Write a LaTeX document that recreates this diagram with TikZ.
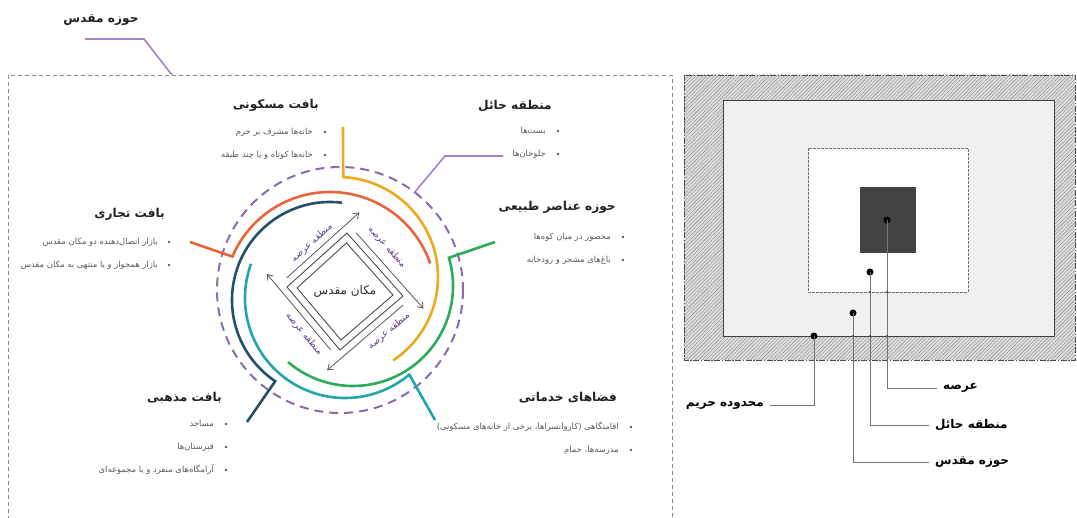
\documentclass[tikz,border=0pt]{standalone}
\usepackage{fontspec}
\usetikzlibrary{arrows.meta,patterns.meta}
\newfontfamily\fa[Script=Arabic]{DejaVu Sans}
\TeXXeTstate=1
\definecolor{cOrange}{HTML}{E9643A}
\definecolor{cNavy}{HTML}{24506B}
\definecolor{cYellow}{HTML}{F0A91E}
\definecolor{cGreen}{HTML}{2EAA5C}
\definecolor{cTeal}{HTML}{1FA7AC}
\definecolor{cPurple}{HTML}{8B6AAE}
\definecolor{cLilac}{HTML}{A582C6}
\definecolor{cLabel}{HTML}{5E3D8A}
\definecolor{cText}{HTML}{5A5A5A}
\definecolor{cHead}{HTML}{222222}
\definecolor{cFrame}{HTML}{8A8A8A}
\definecolor{cHatch}{HTML}{DDDDDD}
\definecolor{cMid}{HTML}{F0F0F0}
\definecolor{cCore}{HTML}{434343}
\tikzset{
  arcline/.style={line width=2.6pt},
  ring/.style={cPurple, line width=2pt, dash pattern=on 9pt off 6pt},
  leader/.style={cLilac, line width=1.6pt},
  blt/.style={circle, fill=cText, inner sep=0pt, minimum size=2.8pt},
  item/.style={anchor=east, inner sep=0pt, text=cText, font=\fa\fontsize{8.4}{10}\selectfont},
  heading/.style={anchor=east, inner sep=0pt, text=cHead, font=\fa\bfseries\fontsize{12.2}{14}\selectfont},
  zlabel/.style={inner sep=0pt, text=cLabel, font=\fa\fontsize{9.3}{11}\selectfont},
  garrow/.style={draw=black!65, line width=0.8pt, -{Straight Barb[length=5pt,width=7pt]}},
  frame/.style={draw=black!75, line width=0.9pt},
  pin/.style={circle, fill=black, inner sep=0pt, minimum size=7pt},
  pline/.style={black!55, line width=0.6pt},
  plabel/.style={inner sep=0pt, text=black, font=\fa\bfseries\fontsize{12}{14}\selectfont},
}
\begin{document}
\begin{tikzpicture}[x=1pt,y=-1pt]
\useasboundingbox (0,0) rectangle (1077,518);
\fill[white] (0,0) rectangle (1077,518);

% ---------- left panel: dashed frame and its title ----------
\draw[cFrame, line width=0.8pt, dash pattern=on 4pt off 3pt]
  (8,520) -- (8,75) -- (672,75) -- (672,520);
\node[heading, anchor=center] (title) at (101,20) {\beginR حوزه مقدس\endR};
\coordinate (t1) at (85,39);
\coordinate (t2) at (144,39);
\coordinate (t3) at (172,75);
\draw[leader] (t1) -- (t2) -- (t3);

% ---------- rings around the sanctuary ----------
\coordinate (ringC) at (340,290);
\draw[ring] (ringC) circle[radius=123];

\coordinate (oC) at (330,298);
\coordinate (oTick) at (190,242);
\draw[arcline, cOrange] (oTick) -- ([shift={(-157:106)}]oC) arc[start angle=-157, end angle=-19, radius=106];

\coordinate (nC) at (330,300);
\coordinate (nTick) at (247,422);
\draw[arcline, cNavy] ([shift={(-83:98)}]nC) arc[start angle=-83, end angle=-236, radius=98] -- (nTick);

\coordinate (yC) at (338,277);
\coordinate (yTick) at (343,127);
\draw[arcline, cYellow] (yTick) -- ([shift={(-87:100)}]yC) arc[start angle=-87, end angle=56.5, radius=100];

\coordinate (gC) at (353,286);
\coordinate (gTick) at (495,242);
\draw[arcline, cGreen] (gTick) -- ([shift={(-16.4:100)}]gC) arc[start angle=-16.4, end angle=130.5, radius=100];

\coordinate (tC) at (345,298);
\coordinate (tTick) at (435,420);
\draw[arcline, cTeal] ([shift={(-160:100)}]tC) arc[start angle=-160, end angle=-310, radius=100] -- (tTick);

% leader from the buffer zone text to the ring
\coordinate (b1) at (503,156);
\coordinate (b2) at (445,156);
\coordinate (b3) at (414,193);
\draw[leader] (b1) -- (b2) -- (b3);

% ---------- the sanctuary diamond ----------
\coordinate (dT) at (347,233); \coordinate (dR) at (403,296);
\coordinate (dB) at (340,350); \coordinate (dL) at (287,287);
\coordinate (iT) at (346.5,243); \coordinate (iR) at (393,295);
\coordinate (iB) at (341,340); \coordinate (iL) at (297,288);
\draw[black!70, line width=0.9pt] (dT) -- (dR) -- (dB) -- (dL) -- cycle;
\draw[black!70, line width=0.9pt] (iT) -- (iR) -- (iB) -- (iL) -- cycle;
\node[inner sep=0pt, text=black!80, font=\fa\fontsize{12}{14}\selectfont] (core) at (345,291) {\beginR مکان مقدس\endR};

% circulation arrows, one along each side
\coordinate (s1) at (286.8,277.8); \coordinate (h1) at (359.4,212.4);
\coordinate (s2) at (356.2,232.9); \coordinate (h2) at (423.5,308.6);
\coordinate (s3) at (403,305.2);   \coordinate (h3) at (327.1,370.3);
\coordinate (s4) at (330.7,349.9); \coordinate (h4) at (266.8,273.9);
\draw[garrow] (s1) -- (h1);
\draw[garrow] (s2) -- (h2);
\draw[garrow] (s3) -- (h3);
\draw[garrow] (s4) -- (h4);

\node[zlabel, rotate=42]   (zTL) at (312,243) {\beginR منطقه عرصه\endR};
\node[zlabel, rotate=-48]  (zTR) at (387,247) {\beginR منطقه عرصه\endR};
\node[zlabel, rotate=40.6] (zBR) at (389,331) {\beginR منطقه عرصه\endR};
\node[zlabel, rotate=-50]  (zBL) at (304,334) {\beginR منطقه عرصه\endR};

% ---------- text blocks ----------
% residential fabric
\node[heading] (hRes) at (319,105) {\beginR بافت مسکونی\endR};
\node[blt] (r1b) at (325,132) {};
\node[item] (r1) at (313,132) {\beginR خانه^^^^200cها مشرف بر حرم\endR};
\node[blt] (r2b) at (325,155) {};
\node[item] (r2) at (313,155) {\beginR خانه^^^^200cها کوتاه و یا چند طبقه\endR};

% buffer zone
\node[heading] (hBuf) at (552,106) {\beginR منطقه حائل\endR};
\node[blt] (f1b) at (558,131) {};
\node[item] (f1) at (546,131) {\beginR بست^^^^200cها\endR};
\node[blt] (f2b) at (558,154) {};
\node[item] (f2) at (546,154) {\beginR جلوخان^^^^200cها\endR};

% natural elements
\node[heading] (hNat) at (616,207) {\beginR حوزه عناصر طبیعی\endR};
\node[blt] (n1b) at (623,237) {};
\node[item] (n1) at (611,237) {\beginR محصور در میان کوه^^^^200cها\endR};
\node[blt] (n2b) at (623,260) {};
\node[item] (n2) at (611,260) {\beginR باغ^^^^200cهای مشجر و رودخانه\endR};

% commercial fabric
\node[heading] (hCom) at (165,214) {\beginR بافت تجاری\endR};
\node[blt] (c1b) at (169,242) {};
\node[item] (c1) at (158,242) {\beginR بازار اتصال^^^^200cدهنده دو مکان مقدس\endR};
\node[blt] (c2b) at (169,265) {};
\node[item] (c2) at (158,265) {\beginR بازار همجوار و یا منتهی به مکان مقدس\endR};

% religious fabric
\node[heading] (hRel) at (222,398) {\beginR بافت مذهبی\endR};
\node[blt] (g1b) at (226,424) {};
\node[item] (g1) at (214,424) {\beginR مساجد\endR};
\node[blt] (g2b) at (226,447) {};
\node[item] (g2) at (214,447) {\beginR قبرستان^^^^200cها\endR};
\node[blt] (g3b) at (226,470) {};
\node[item] (g3) at (214,470) {\beginR آرامگاه^^^^200cهای منفرد و یا مجموعه^^^^200cای\endR};

% service spaces
\node[heading] (hSrv) at (617,398) {\beginR فضاهای خدماتی\endR};
\node[blt] (v1b) at (631,427) {};
\node[item] (v1) at (619,427) {\beginR اقامتگاهی (کاروانسراها، برخی از خانه^^^^200cهای مسکونی)\endR};
\node[blt] (v2b) at (631,450) {};
\node[item] (v2) at (619,450) {\beginR مدرسه^^^^200cها، حمام\endR};

% ---------- right panel: nested precincts ----------
\fill[cHatch] (684,75) rectangle (1075,360);
\fill[pattern={Lines[angle=45,distance=2.6pt,line width=0.4pt]}, pattern color=black!45] (684,75) rectangle (1075,360);
\draw[black!70, line width=0.8pt, dash pattern=on 6pt off 1.5pt on 1.5pt off 1.5pt] (684,75) rectangle (1075,360);
\fill[cMid] (723,100) rectangle (1054,336);
\draw[frame] (723,100) rectangle (1054,336);
\fill[white] (808,148) rectangle (968,292);
\draw[black!55, line width=0.6pt, dash pattern=on 3pt off 1pt] (808,148) rectangle (968,292);
\fill[cCore] (860,187) rectangle (916,253);

\node[pin] (p1) at (887,220) {};
\node[pin] (p2) at (870,272) {};
\node[pin] (p3) at (853,313) {};
\node[pin] (p4) at (814,336) {};

\node[plabel, anchor=west] (L1) at (943,388) {\beginR عرصه\endR};
\node[plabel, anchor=west] (L2) at (935,425) {\beginR منطقه حائل\endR};
\node[plabel, anchor=west] (L3) at (935,462) {\beginR حوزه مقدس\endR};
\node[plabel, anchor=east] (L4) at (764,405) {\beginR محدوده حریم\endR};

\draw[pline] (p1.center) -- (887,388) -- ([xshift=-6pt]L1.west);
\draw[pline] (p2.center) -- (870,425) -- ([xshift=-6pt]L2.west);
\draw[pline] (p3.center) -- (853,462) -- ([xshift=-6pt]L3.west);
\draw[pline] (p4.center) -- (814,405) -- ([xshift=6pt]L4.east);
\foreach \px/\py in {887/292, 870/292, 853/336, 870/336, 887/336}
  \fill[black!70] (\px,\py) circle[radius=1.1];
\end{tikzpicture}
\end{document}
